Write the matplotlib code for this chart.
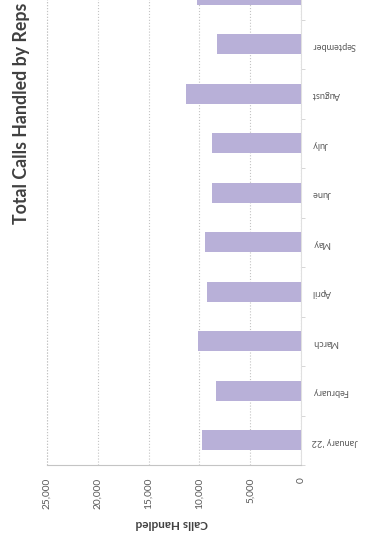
import matplotlib.pyplot as plt

months = ["January '22", "February", "March", "April", "May", "June",
          "July", "August", "September", "October"]
calls = [9700, 8400, 10100, 9300, 9400, 8800, 8800, 11300, 8300, 10200]
value_ticks = [0, 5000, 10000, 15000, 20000, 25000]

plt.rcParams['font.family'] = ['Lato', 'DejaVu Sans']

W, H = 365, 544
fig = plt.figure(figsize=(W / 100, H / 100), dpi=100)

# chart is a scanned column chart turned on its side: values run right-to-left
left, right, bottom = 47, 301, 465
ax = fig.add_axes([left / W, (H - bottom) / H, (right - left) / W, 495 / H])

pos = list(range(len(months)))
ax.barh(pos, calls, height=0.4, color='#b8b0d8', zorder=3)

ax.set_xlim(25000, 0)
ax.set_ylim(-0.5, len(months) - 0.5)

ax.set_xticks(value_ticks)
ax.set_xticklabels([f"{v:,}" for v in value_ticks], rotation=90,
                   fontsize=7.3, color='#595959')
ax.tick_params(axis='x', length=0, pad=9)
for t in ax.get_xticklabels():
    t.set_va('top')

ax.yaxis.tick_right()
ax.set_yticks(pos)
ax.set_yticklabels(months, rotation=180, fontsize=6.6, color='#595959')
ax.tick_params(axis='y', which='major', length=0, pad=8)
# top label falls off the scanned page
ax.get_yticklabels()[-1].set_visible(False)
ax.set_yticks([p + 0.5 for p in pos[:-1]] + [-0.5], minor=True)
ax.tick_params(axis='y', which='minor', length=3, color='#d0d0d0', right=True, left=False)

ax.grid(axis='x', color='#c4c4c4', linestyle=':', linewidth=0.8, zorder=0)
for s in ['top', 'left']:
    ax.spines[s].set_visible(False)
ax.spines['bottom'].set_color('#c4c4c4')
ax.spines['right'].set_color('#e0e0e0')
ax.axvline(25000, color='#c4c4c4', linestyle=':', linewidth=0.8, clip_on=False)

fig.text(22 / W, 1 - 113 / H, "Total Calls Handled by Reps", rotation=90,
         ha='center', va='center', fontsize=12.8, fontweight='bold', color='#404040')
fig.text(172 / W, 1 - 524 / H, "Calls Handled", rotation=180,
         ha='center', va='center', fontsize=8.5, fontweight='bold', color='#404040')

fig.savefig('out.png', dpi=100)
